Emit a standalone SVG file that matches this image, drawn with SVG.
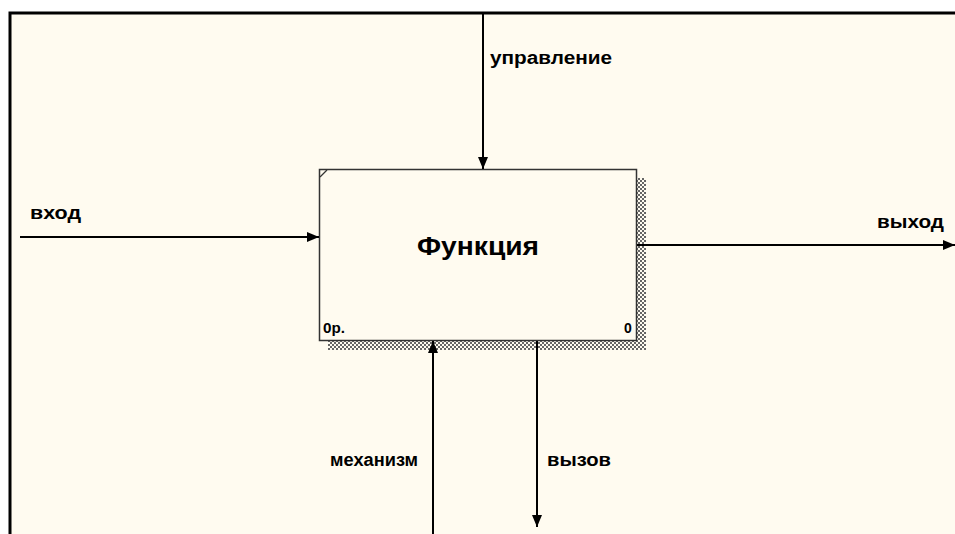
<svg xmlns="http://www.w3.org/2000/svg" width="955" height="534" viewBox="0 0 955 534">
<style>
.lbl{font-family:"Liberation Sans",Arial,sans-serif;font-weight:bold;font-size:18px;fill:#000}
.ln{stroke:#000;stroke-width:2;fill:none}
.num{font-family:"Liberation Sans",Arial,sans-serif;font-weight:bold;font-size:14px;fill:#000}
</style>
<defs>
<pattern id="hatch" width="4" height="4" patternUnits="userSpaceOnUse">
<rect width="4" height="4" fill="#fffbf0"/>
<rect x="0" y="0" width="2" height="2" fill="#666"/>
<rect x="2" y="2" width="2" height="2" fill="#666"/>
</pattern>
<marker id="ah" viewBox="0 0 12 10" refX="12" refY="5" markerWidth="12" markerHeight="10" markerUnits="userSpaceOnUse" orient="auto">
<path d="M0,0 L12,5 L0,10 z" fill="#000"/>
</marker>
</defs>
<rect width="955" height="534" fill="#fff"/>
<rect x="10" y="13" width="950" height="530" fill="#fffbf0" stroke="#000" stroke-width="3"/>
<g id="node-func">
<rect x="328" y="178" width="318" height="172" fill="url(#hatch)"/>
<rect x="319.5" y="169.5" width="317" height="171" fill="#fffbf0" stroke="#333" stroke-width="1.5"/>
<line x1="320" y1="177" x2="327" y2="170" stroke="#333" stroke-width="1.2"/>
<text x="417" y="255" textLength="122" lengthAdjust="spacingAndGlyphs" font-family="Liberation Sans,Arial,sans-serif" font-weight="bold" font-size="26">Функция</text>
<text class="num" x="323" y="333" textLength="22" lengthAdjust="spacingAndGlyphs">0р.</text>
<text class="num" x="624" y="333">0</text>
</g>
<g id="connectors">
<line class="ln" x1="20" y1="237" x2="319" y2="237" marker-end="url(#ah)"/>
<line class="ln" x1="483" y1="14" x2="483" y2="169" marker-end="url(#ah)"/>
<line class="ln" x1="637" y1="245" x2="955" y2="245" marker-end="url(#ah)"/>
<line class="ln" x1="433" y1="534" x2="433" y2="341" marker-end="url(#ah)"/>
<line class="ln" x1="537" y1="341" x2="537" y2="527" marker-end="url(#ah)"/>
</g>
<g id="labels">
<text class="lbl" x="30" y="219" textLength="51" lengthAdjust="spacingAndGlyphs">вход</text>
<text class="lbl" x="490" y="64" textLength="122" lengthAdjust="spacingAndGlyphs">управление</text>
<text class="lbl" x="877" y="228" textLength="67" lengthAdjust="spacingAndGlyphs">выход</text>
<text class="lbl" x="330" y="466" textLength="88" lengthAdjust="spacingAndGlyphs">механизм</text>
<text class="lbl" x="547" y="466" textLength="64" lengthAdjust="spacingAndGlyphs">вызов</text>
</g>
</svg>
